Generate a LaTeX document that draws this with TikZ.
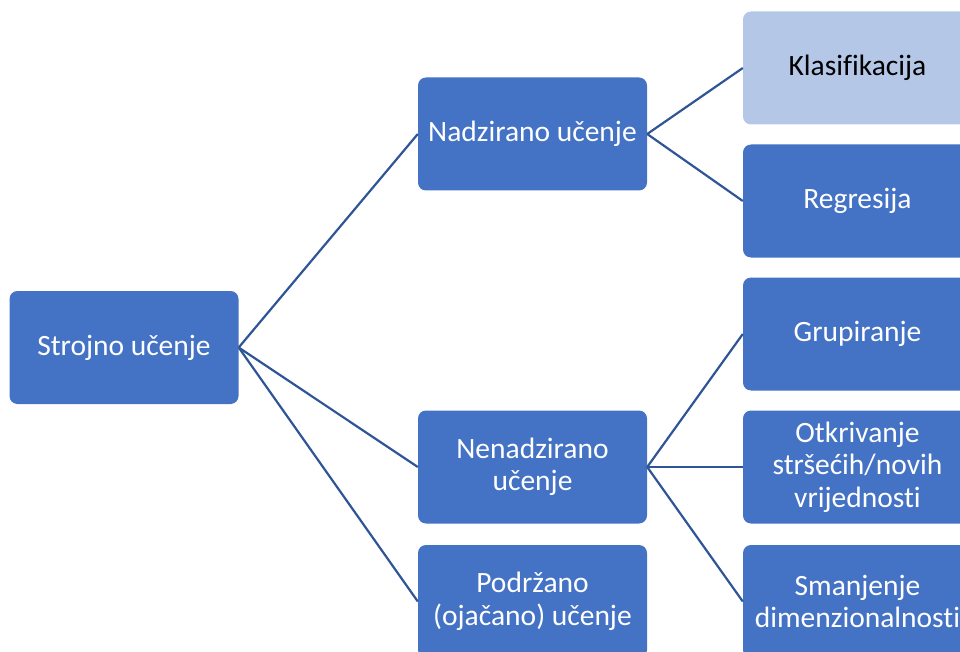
\documentclass[tikz,border=0pt]{standalone}
\usepackage{fontspec}
\setmainfont{Carlito}[Ligatures=NoCommon]
\usepackage{xcolor}
\usepackage{tikz}
\definecolor{boxblue}{HTML}{4472C4}
\definecolor{boxlight}{HTML}{B4C7E7}
\definecolor{lineblue}{HTML}{2F5597}
\tikzset{
    box/.style={fill=boxblue, text=white, rounded corners=8pt, minimum width=229pt,
        minimum height=113pt, inner sep=0pt, align=center, font=\fontsize{29.5}{32.5}\selectfont},
    lightbox/.style={box, fill=boxlight, text=black},
    link/.style={draw=lineblue, line width=2.2pt}
}

\begin{document}
\begin{tikzpicture}[x=1pt, y=-1pt]
        \useasboundingbox (0,0) rectangle (960,652);
        \clip (0,0) rectangle (960,652);

        \node[box] (strojno) at (124,347.5) {Strojno učenje};

        \node[box] (nadzirano)   at (532.5,134)   {Nadzirano učenje};
        \node[box] (nenadzirano) at (532.5,467)   {Nenadzirano\\učenje};
        \node[box] (podrzano)    at (532.5,601.5) {Podržano\\(ojačano) učenje};

        \node[lightbox] (klasifikacija) at (857.5,68) {Klasifikacija};
        \node[box] (regresija)  at (857.5,201)   {Regresija};
        \node[box] (grupiranje) at (857.5,334)   {Grupiranje};
        \node[box] (otkrivanje) at (857.5,467)   {Otkrivanje\\stršećih/novih\\vrijednosti};
        \node[box] (smanjenje)  at (857.5,601.5) {Smanjenje\\dimenzionalnosti};

        \draw[link] (strojno.east) -- (nadzirano.west);
        \draw[link] (strojno.east) -- (nenadzirano.west);
        \draw[link] (strojno.east) -- (podrzano.west);

        \draw[link] (nadzirano.east) -- (klasifikacija.west);
        \draw[link] (nadzirano.east) -- (regresija.west);

        \draw[link] (nenadzirano.east) -- (grupiranje.west);
        \draw[link] (nenadzirano.east) -- (otkrivanje.west);
        \draw[link] (nenadzirano.east) -- (smanjenje.west);
    \end{tikzpicture}
\end{document}
